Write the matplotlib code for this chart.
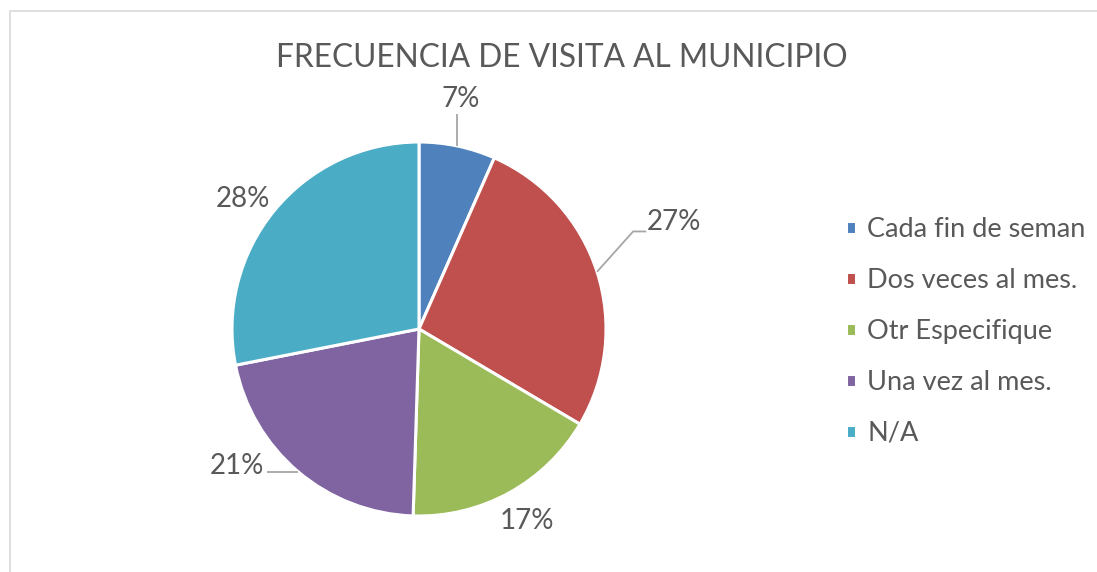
import numpy as np
import matplotlib.pyplot as plt
from matplotlib.patches import Rectangle

plt.rcParams['font.family'] = ['Lato', 'DejaVu Sans']

# datos (porcentaje de cada porcion)
categorias = ['Cada fin de seman', 'Dos veces al mes.', 'Otr Especifique',
              'Una vez al mes.', 'N/A']
porcentajes = [6.6, 26.9, 17.0, 21.4, 28.1]
colores = ['#4F81BD', '#C0504D', '#9BBB59', '#8064A2', '#4BACC6']

# posicion de las etiquetas (distancia al centro, angulo extra en grados)
etq_dist = [1.25, 1.48, 1.18, 1.22, 1.17]
etq_giro = [1.5, 4.9, 0.6, -12.7, 3.0]

texto = '#595959'
gris = '#A6A6A6'

fig = plt.figure(figsize=(10.97, 5.72), dpi=100)

# marco del area del grafico
fig.patches.append(Rectangle((10 / 1097, -0.5), 2, 0.9808 + 0.5,
                             transform=fig.transFigure, fill=False,
                             edgecolor='#D9D9D9', linewidth=1.2))

R = 187
cx, cy = 419, 329
ax = fig.add_axes([(cx - R) / 1097, (572 - cy - R) / 572, 2 * R / 1097, 2 * R / 572])

wedges, _ = ax.pie(porcentajes, colors=colores, startangle=90, counterclock=False,
                   radius=1, wedgeprops=dict(edgecolor='white', linewidth=2.2))
ax.set_xlim(-1, 1)
ax.set_ylim(-1, 1)
ax.set_aspect('equal')
ax.axis('off')

# etiquetas de porcentaje
acum = np.cumsum([0] + porcentajes)
pos = []
for i, v in enumerate(porcentajes):
    medio = 90 - (acum[i] + v / 2) * 3.6
    ang = np.radians(medio + etq_giro[i])
    x, y = etq_dist[i] * np.cos(ang), etq_dist[i] * np.sin(ang)
    pos.append((x, y, np.radians(medio)))
    ax.text(x, y, f'{v:.0f}%', ha='center', va='center', fontsize=20,
            color=texto, clip_on=False)

# lineas guia
kw = dict(color=gris, linewidth=1.3, clip_on=False, solid_capstyle='butt')
x, y, m = pos[0]
ax.plot([np.cos(m), np.cos(m)], [np.sin(m), y - 0.08], **kw)
x, y, m = pos[1]
ax.plot([np.cos(m), x - 0.22, x - 0.15], [np.sin(m), y - 0.05, y - 0.05], **kw)
x, y, m = pos[3]
ax.plot([np.cos(m), x + 0.16], [np.sin(m), np.sin(m)], **kw)

fig.text(0.512, 0.899, 'FRECUENCIA DE VISITA AL MUNICIPIO', ha='center',
         va='center', fontsize=22.8, color=texto)

fig.legend(wedges, categorias, loc='upper left',
           bbox_to_anchor=(846 / 1097, 1 - 217 / 572), frameon=False,
           fontsize=19.5, labelcolor=texto, handlelength=0.37, handleheight=0.37,
           handletextpad=0.42, labelspacing=0.96, borderpad=0, borderaxespad=0)

fig.savefig('out.png', dpi=100, facecolor='white')
